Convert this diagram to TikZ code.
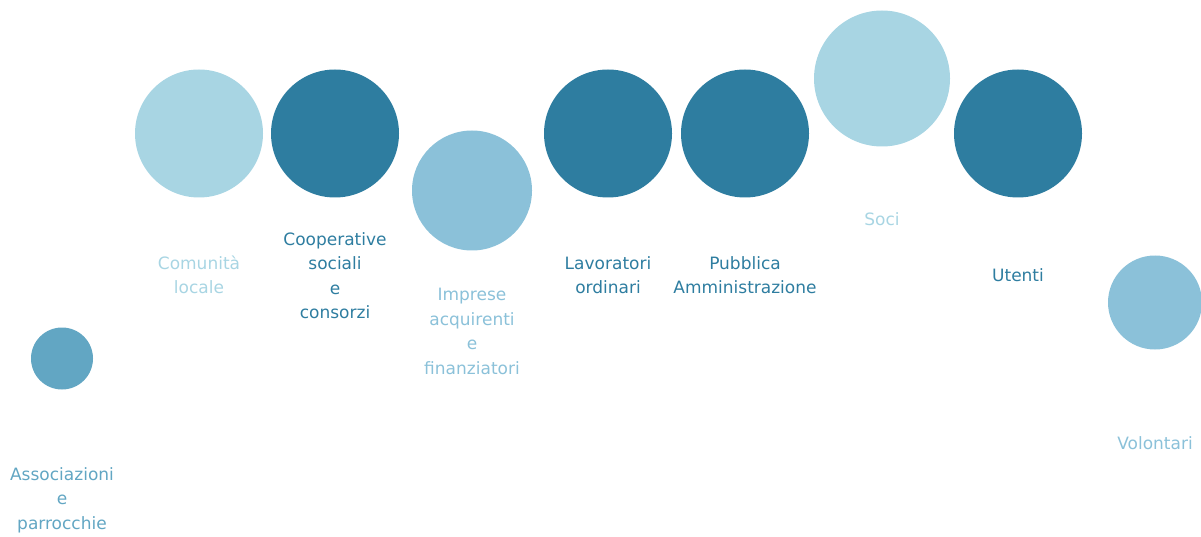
\documentclass[tikz,border=0pt]{standalone}
\usepackage{fontspec}
\setmainfont{DejaVu Sans}
\definecolor{cdark}{RGB}{46,125,160}
\definecolor{clight}{RGB}{168,213,227}
\definecolor{cmid}{RGB}{139,193,217}
\definecolor{cassoc}{RGB}{98,166,195}
\begin{document}
\begin{tikzpicture}[x=1pt,y=-1pt,
  bubble/.style={circle,inner sep=0pt,outer sep=0pt,minimum size=#1},
  lbl/.style={align=center,inner sep=0pt,font=\fontsize{17}{24.5}\selectfont,text=#1}]
\useasboundingbox (0,0) rectangle (1201,537);
\node[bubble=62pt,fill=cassoc] (assoc) at (62,358.5) {};
\node[lbl=cassoc] (assocL) at (62,500) {Associazioni\\e\\parrocchie};
\node[bubble=128pt,fill=clight] (comun) at (199,133.5) {};
\node[lbl=clight] (comunL) at (199,275) {Comunità\\locale};
\node[bubble=128pt,fill=cdark] (coop) at (335,133.5) {};
\node[lbl=cdark] (coopL) at (335,275.5) {Cooperative\\sociali\\e\\consorzi};
\node[bubble=120pt,fill=cmid] (impr) at (472,190.5) {};
\node[lbl=cmid] (imprL) at (472,331.5) {Imprese\\acquirenti\\e\\finanziatori};
\node[bubble=128pt,fill=cdark] (lav) at (608,133.5) {};
\node[lbl=cdark] (lavL) at (608,275) {Lavoratori\\ordinari};
\node[bubble=128pt,fill=cdark] (pa) at (745,133.5) {};
\node[lbl=cdark] (paL) at (745,275) {Pubblica\\Amministrazione};
\node[bubble=136pt,fill=clight] (soci) at (882,78.5) {};
\node[lbl=clight] (sociL) at (882,219) {Soci};
\node[bubble=128pt,fill=cdark] (ute) at (1018,133.5) {};
\node[lbl=cdark] (uteL) at (1018,275) {Utenti};
\node[bubble=94pt,fill=cmid] (vol) at (1155,302.5) {};
\node[lbl=cmid] (volL) at (1155,443) {Volontari};
\end{tikzpicture}
\end{document}
